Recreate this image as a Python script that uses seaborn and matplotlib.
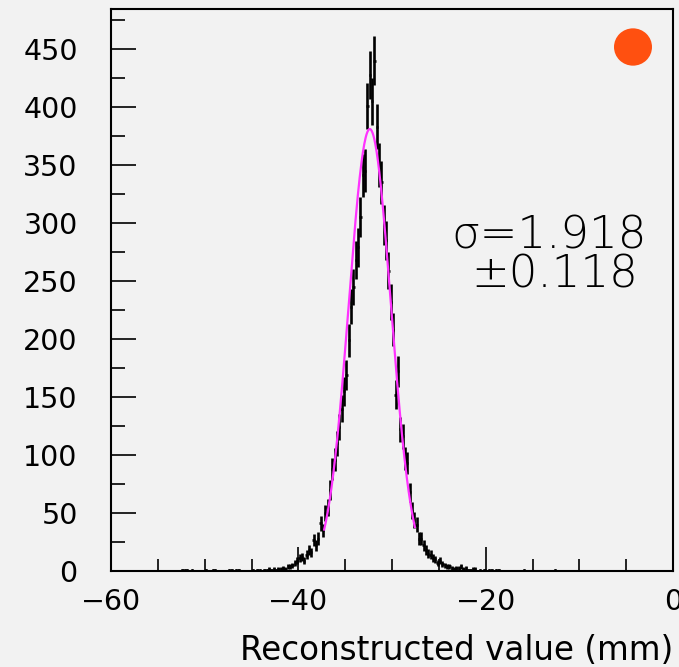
import numpy as np
import pandas as pd
import matplotlib
matplotlib.use("Agg")
import matplotlib.pyplot as plt
import seaborn as sns
from matplotlib.patches import Circle

# ---------------- data ----------------
bin_start = -54.0      # left edge of first listed bin (mm)
bin_width = 0.25       # mm
counts = [
    0, 0, 0, 0,   0, 0, 1, 1,   1, 0, 1, 0,   0, 0, 0, 0,      # -54 .. -50
    1, 0, 0, 1,   1, 0, 0, 0,   0, 0, 1, 1,   0, 1, 1, 0,      # -50 .. -46
    0, 0, 0, 0,   1, 0, 1, 1,   0, 1, 1, 2,   1, 2, 1, 2,      # -46 .. -42
    2, 3, 2, 4,   4, 5, 7, 9,   11, 12, 9, 14,  18, 16, 27, 22,  # -42 .. -38
    28, 41, 35, 50,  55, 70, 88, 96,  110, 124, 140, 155,      # -38 .. -35
    169, 199, 228, 245,  268, 279, 305, 341,                   # -35 .. -33
    345, 401, 428, 405,  440, 383, 350, 335,                   # -33 .. -31
    298, 285, 259, 232,  208, 152, 172, 122,                   # -31 .. -29
    116, 97, 93, 68,  52, 44, 40, 28,                          # -29 .. -27
    28, 22, 18, 15,  14, 11, 10, 7,                            # -27 .. -25
    9, 6, 5, 4,  4, 3, 2, 3,                                   # -25 .. -23
    3, 4, 2, 3,  1, 1, 2, 2,                                   # -23 .. -21
    0, 1, 0, 1,  0, 1, 1, 0,  1, 1, 0, 0,                      # -21 .. -18
    0, 0, 0, 0,  0, 0, 0, 0,                                   # -18 .. -16
    1, 0, 0, 0,  0, 0, 0, 0,  0, 0, 0, 0,  0, 1,               # -16 .. -12.5
]

# Gaussian fit shown on the plot
fit_amplitude = 381.0
fit_mean = -32.37
fit_sigma = 2.24
fit_lo, fit_hi = -37.25, -27.55

x_major = [-60, -40, -20, 0]
y_major = [0, 50, 100, 150, 200, 250, 300, 350, 400, 450]
sigma_text = "σ=1.918"
sigma_err_text = "±0.118"
x_label = "Reconstructed value (mm)"

# ---------------- build tables ----------------
counts = np.array(counts, dtype=float)
centers = bin_start + bin_width * (np.arange(len(counts)) + 0.5)
hist = pd.DataFrame({"x": centers, "n": counts})
hist = hist[hist["n"] > 0]

fx = np.linspace(fit_lo, fit_hi, 200)
fit = pd.DataFrame({"x": fx,
                    "y": fit_amplitude * np.exp(-0.5 * ((fx - fit_mean) / fit_sigma) ** 2)})

# ---------------- style ----------------
sns.set_theme(style="ticks")
bg = "#f2f2f2"
plt.rcParams["font.family"] = ["DejaVu Sans"]

fig = plt.figure(figsize=(6.79, 6.67), dpi=100, facecolor=bg)
ax = fig.add_axes([111 / 679, 1 - 571 / 667, (673 - 111) / 679, (571 - 9) / 667])
ax.set_facecolor(bg)

ax.errorbar(hist["x"], hist["n"], yerr=np.sqrt(hist["n"]), xerr=bin_width / 2,
            fmt="none", ecolor="black", elinewidth=1.9, capsize=0)
sns.lineplot(data=fit, x="x", y="y", ax=ax, color="#ff33ff", lw=1.6)

ax.set_xlim(-60, 0)
ax.set_ylim(0, 484.5)
ax.set_xticks(x_major)
ax.set_xticks(np.arange(-60, 1, 5), minor=True)
ax.set_yticks(y_major)
ax.set_yticks(np.arange(0, 484, 25), minor=True)

for s in ax.spines.values():
    s.set_visible(True)
    s.set_linewidth(1.5)
    s.set_color("black")

ax.tick_params(axis="both", which="both", direction="in", color="black",
               labelcolor="black", width=1.2, top=False, right=False, labelsize=20.5)
ax.tick_params(axis="x", which="major", length=17, pad=12)
ax.tick_params(axis="x", which="minor", length=8.5)
ax.tick_params(axis="y", which="major", length=18, pad=24)
ax.tick_params(axis="y", which="minor", length=10)
ax.set_xlabel(x_label, loc="right", fontsize=23.5, labelpad=13, color="black")
ax.set_ylabel("")

ax.text(0.953, 0.574, sigma_text, transform=ax.transAxes, ha="right", va="baseline",
        fontsize=32.5, color="black", fontweight="light")
ax.text(0.937, 0.504, sigma_err_text, transform=ax.transAxes, ha="right", va="baseline",
        fontsize=32.5, color="black", fontweight="light")

fig.add_artist(Circle((633 / 679, 1 - 47 / 667), 19 / 679, transform=fig.transFigure,
                      facecolor="#ff5010", edgecolor="none"))

fig.savefig("out.png", dpi=100, facecolor=bg)
